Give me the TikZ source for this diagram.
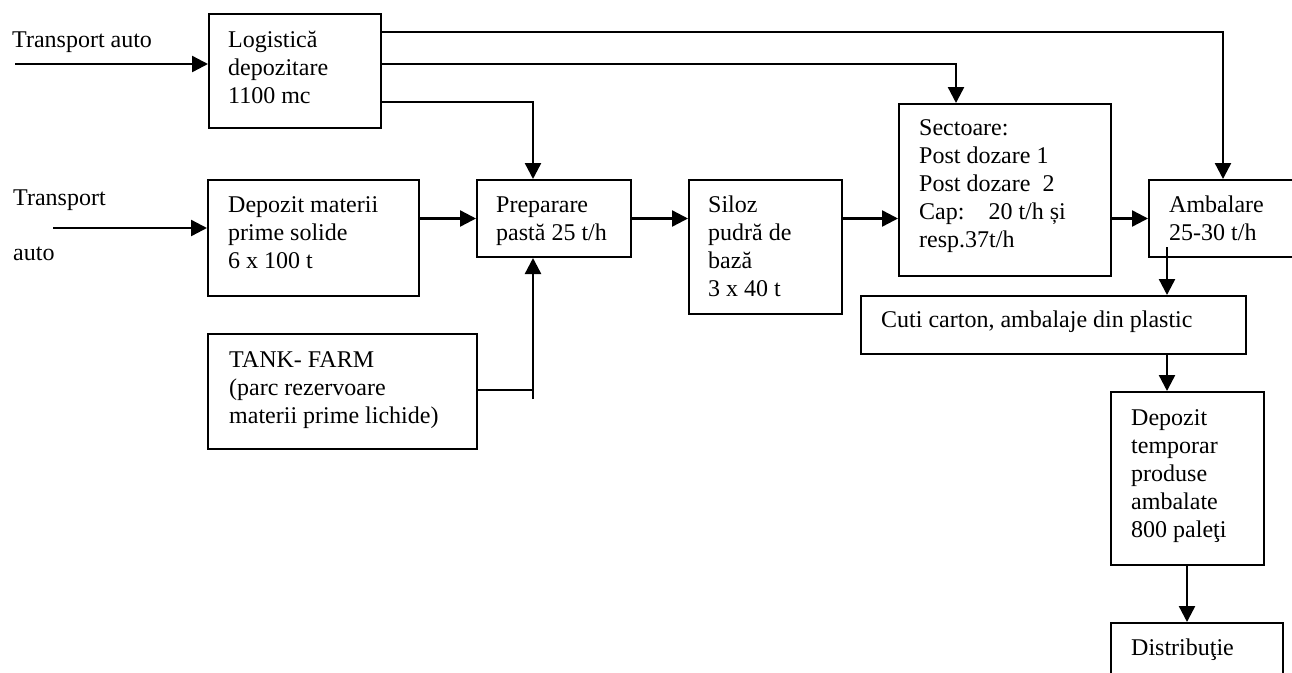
\documentclass[tikz,border=0pt]{standalone}
\usepackage{fontspec}
\setmainfont{Liberation Serif}
\usetikzlibrary{arrows.meta}
\begin{document}
\begin{tikzpicture}[x=1pt,y=-1pt,
  box/.style={draw, line width=2pt, inner sep=0pt, anchor=north west},
  txt/.style={inner sep=0pt, anchor=north west, align=left,
              font=\fontsize{24}{28}\selectfont},
  flow/.style={line width=2.4pt, -{Triangle[length=16pt,width=16pt]}},
  wire/.style={line width=2.4pt}]
\useasboundingbox (0,0) rectangle (1292,672);
\clip (0,0) rectangle (1292,672);
\newcommand{\fl}{\rule{0pt}{22pt}}

% boxes (top-left corner, size)
\node[box, minimum width=172pt, minimum height=114pt] (log)   at (208,13)  {};
\node[box, minimum width=211pt, minimum height=116pt] (dep)   at (207,179) {};
\node[box, minimum width=269pt, minimum height=115pt] (tank)  at (207,333) {};
\node[box, minimum width=154pt, minimum height=77pt]  (prep)  at (476,179) {};
\node[box, minimum width=153pt, minimum height=134pt] (silo)  at (688,179) {};
\node[box, minimum width=212pt, minimum height=172pt] (sect)  at (898,103) {};
\node[box, minimum width=170pt, minimum height=77pt]  (amb)   at (1148,179) {};
\node[box, minimum width=385pt, minimum height=58pt]  (cuti)  at (860,295) {};
\node[box, minimum width=153pt, minimum height=173pt] (dtemp) at (1110,391) {};
\node[box, minimum width=172pt, minimum height=80pt]  (dist)  at (1110,622) {};

% texts (placed by first baseline minus strut height)
\node[txt] (tA)  at (12,25)    {\fl Transport auto};
\node[txt] (tB)  at (13,183)   {\fl Transport};
\node[txt] (tC)  at (13,238)   {\fl auto};
\node[txt] (logT)  at (228,25)  {\fl Logistică\\depozitare\\1100 mc};
\node[txt] (depT)  at (228,190) {\fl Depozit materii\\prime solide\\6 x 100 t};
\node[txt] (tankT) at (229,345) {\fl TANK- FARM\\(parc rezervoare\\materii prime lichide)};
\node[txt] (prepT) at (496,190) {\fl Preparare\\pastă 25 t/h};
\node[txt] (siloT) at (708,190) {\fl Siloz\\pudră de\\bază\\3 x 40 t};
\node[txt] (sectT) at (919,113) {\fl Sectoare:\\Post dozare 1\\Post dozare\ \ 2\\Cap:\ \ \ \ 20 t/h și\\resp.37t/h};
\node[txt] (ambT)  at (1169,190) {\fl Ambalare\\25-30 t/h};
\node[txt] (cutiT) at (881,305) {\fl Cuti carton, ambalaje din plastic};
\node[txt] (dtempT) at (1131,403) {\fl Depozit\\temporar\\produse\\ambalate\\800 paleţi};
\node[txt] (distT) at (1131,633) {\fl Distribuţie};

% bend points and free line ends
\coordinate (in1) at (15,64);
\coordinate (in2) at (53,228);
\coordinate (k1) at (1223,32);
\coordinate (k2) at (956,64);
\coordinate (k3) at (533,102);
\coordinate (k4) at (533,390);
\coordinate (k5) at (533,399);
\coordinate (k6) at (1167,247);
\coordinate (k7) at (1187,564);

% connectors
\draw[flow] (in1) -- (in1 -| log.west);
\draw[flow] (in2) -- (in2 -| dep.west);
\draw[flow] (dep.east |- prep.west) -- (prep.west);
\draw[flow] (prep.east) -- (prep.east -| silo.west);
\draw[flow] (silo.east |- prep.east) -- (sect.west |- prep.east);
\draw[flow] (sect.east |- amb.west) -- (amb.west);
\draw[flow] (log.east |- k1) -- (k1) -- (k1 |- amb.north);
\draw[flow] (log.east |- k2) -- (k2) -- (k2 |- sect.north);
\draw[flow] (log.east |- k3) -- (k3) -- (k3 |- prep.north);
\draw[wire] (tank.east |- k4) -- (k4);
\draw[flow] (k5) -- (k5 |- prep.south);
\draw[flow] (k6) -- (k6 |- cuti.north);
\draw[flow] (k6 |- cuti.south) -- (k6 |- dtemp.north);
\draw[flow] (k7 |- dtemp.south) -- (k7 |- dist.north);
\end{tikzpicture}
\end{document}
